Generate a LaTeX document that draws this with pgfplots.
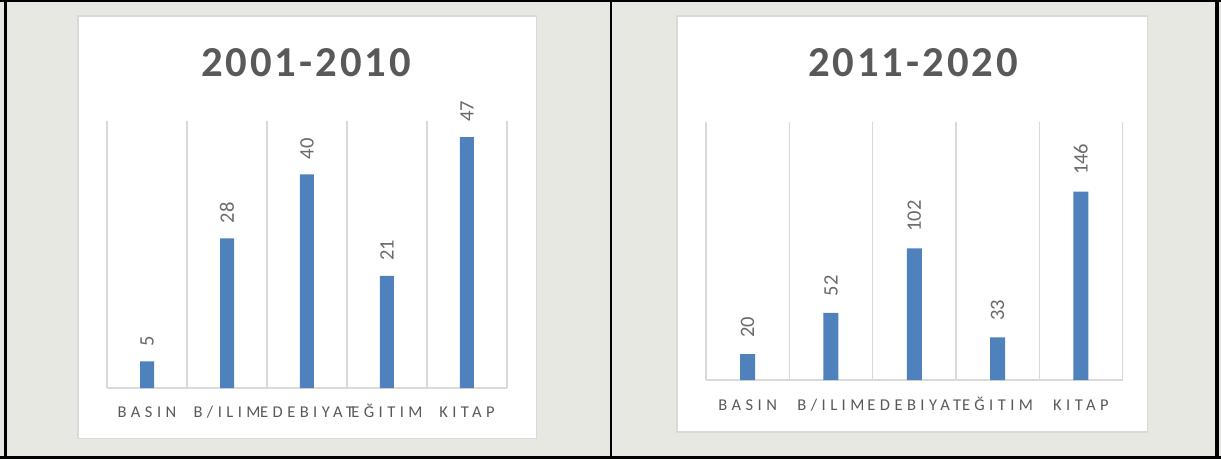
\documentclass[border=0pt]{standalone}
\usepackage{pgfplots}
\pgfplotsset{compat=1.18}
\usepackage{fontspec}
\setmainfont{Carlito}
\newfontfamily\titlefont[LetterSpace=6.8]{Carlito}
\newfontfamily\catfont[LetterSpace=27]{Carlito}
\definecolor{bgc}{HTML}{E8E8E3}
\definecolor{panelc}{HTML}{D9D9D9}
\definecolor{gridc}{HTML}{D9D9D9}
\definecolor{barc}{HTML}{4F81BD}
\definecolor{titlec}{HTML}{595959}
\definecolor{labc}{HTML}{595959}
\definecolor{datac}{HTML}{6A6A6A}
\pgfplotsset{
  panel/.style={
    scale only axis, clip=false,
    /pgf/number format/assume math mode=true,
    xmin=-0.5, xmax=4.5, ymin=0,
    axis x line*=bottom, axis y line=none,
    xtick={0,1,2,3,4},
    xticklabels={BASIN,B/ILIM,EDEBIYAT,EĞITIM,KITAP},
    minor xtick={-0.5,0.5,1.5,2.5,3.5,4.5},
    xminorgrids=true,
    minor x grid style={draw=gridc, line width=1.3pt},
    major tick length=0pt, minor tick length=0pt,
    axis line style={draw=gridc, line width=1.5pt},
    xticklabel style={font=\catfont\fontsize{16.5}{20}\selectfont, text=labc, anchor=base, inner sep=0pt},
    ybar, bar shift=0pt,
    nodes near coords,
  }
}
\begin{document}
\begin{tikzpicture}
\useasboundingbox (0,0) rectangle (1221pt,459pt);
\fill[bgc] (0,0) rectangle (1221pt,459pt);
% frame lines
\draw[black, line width=2.5pt] (5.3pt,0) -- (5.3pt,459pt);
\draw[black, line width=1.6pt] (0,458.2pt) -- (1221pt,458.2pt);
\draw[black, line width=3pt] (0,1.5pt) -- (1221pt,1.5pt);
\draw[black, line width=4pt] (1217pt,0) -- (1217pt,459pt);
\draw[black, line width=2pt] (611pt,0) -- (611pt,459pt);
% panels
\draw[panelc, line width=1.5pt, fill=white] (77.8pt,20.5pt) rectangle (536.5pt,443.2pt);
\draw[panelc, line width=1.5pt, fill=white] (677pt,27.2pt) rectangle (1147.5pt,443.2pt);
% titles
\node[font=\titlefont\bfseries\fontsize{42.7}{50}\selectfont, text=titlec, anchor=base, inner sep=0pt] at (306pt,382pt) {2001-2010};
\node[font=\titlefont\bfseries\fontsize{42.7}{50}\selectfont, text=titlec, anchor=base, inner sep=0pt] at (913pt,382pt) {2011-2020};
% panel 1
\begin{axis}[panel,
  at={(107pt,71pt)}, anchor=south west,
  width=400pt, height=267pt, ymax=50,
  bar width=14pt,
  xticklabel style={yshift=-29.3pt},
  nodes near coords style={font=\fontsize{20.5}{24}\selectfont, text=datac, inner sep=0pt, yshift=15pt, rotate=90, anchor=west},
]
\addplot[fill=barc, draw=none] coordinates {(0,5) (1,28) (2,40) (3,21) (4,47)};
\end{axis}
% panel 2
\begin{axis}[panel,
  at={(706pt,79pt)}, anchor=south west,
  width=416.5pt, height=258pt, ymax=200,
  bar width=15pt,
  xticklabel style={yshift=-30pt},
  nodes near coords style={font=\fontsize{20.5}{24}\selectfont, text=datac, inner sep=0pt, yshift=16.5pt, rotate=90, anchor=west},
]
\addplot[fill=barc, draw=none] coordinates {(0,20) (1,52) (2,102) (3,33) (4,146)};
\end{axis}
\end{tikzpicture}
\end{document}
